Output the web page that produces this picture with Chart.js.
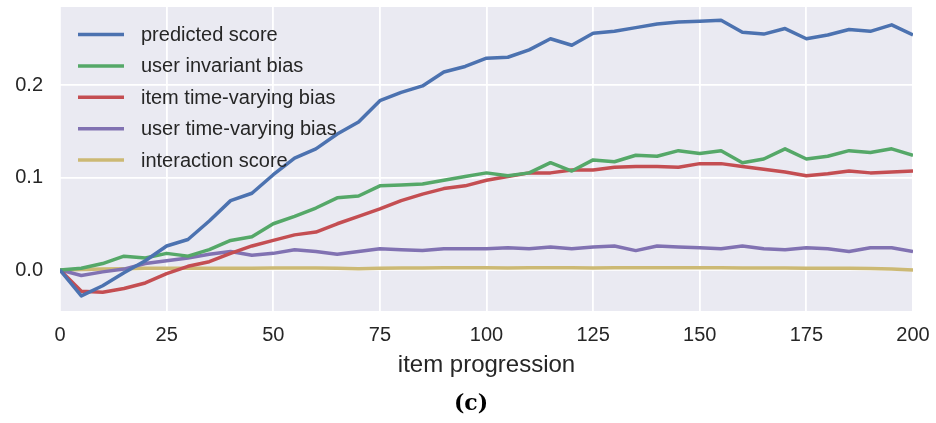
<!DOCTYPE html>
<html>
<head>
<meta charset="utf-8">
<script src="https://cdn.jsdelivr.net/npm/chart.js@4/dist/chart.umd.min.js"></script>
<style>
  html, body { margin: 0; padding: 0; background: #ffffff; }
  #wrap { width: 936px; height: 423px; position: relative; }
</style>
</head>
<body>
<div id="wrap"><canvas id="c" width="936" height="423"></canvas></div>
<script>
// item progression steps
const steps = [0, 5, 10, 15, 20, 25, 30, 35, 40, 45, 50, 55, 60, 65, 70, 75, 80, 85, 90, 95, 100,
  105, 110, 115, 120, 125, 130, 135, 140, 145, 150, 155, 160, 165, 170, 175, 180, 185, 190, 195, 200];

const predictedScore = [0, -0.028, -0.017, -0.003, 0.010, 0.026, 0.033, 0.053, 0.075, 0.083, 0.103,
  0.121, 0.131, 0.147, 0.160, 0.183, 0.192, 0.199, 0.214, 0.220, 0.229, 0.230, 0.238, 0.250, 0.243,
  0.256, 0.258, 0.262, 0.266, 0.268, 0.269, 0.270, 0.257, 0.255, 0.261, 0.250, 0.254, 0.260, 0.258,
  0.265, 0.254];

const userInvariantBias = [0, 0.002, 0.007, 0.015, 0.013, 0.018, 0.015, 0.022, 0.032, 0.036, 0.050,
  0.058, 0.067, 0.078, 0.080, 0.091, 0.092, 0.093, 0.097, 0.101, 0.105, 0.102, 0.105, 0.116, 0.107,
  0.119, 0.117, 0.124, 0.123, 0.129, 0.126, 0.129, 0.116, 0.120, 0.131, 0.120, 0.123, 0.129, 0.127,
  0.131, 0.124];

const itemTimeVaryingBias = [0, -0.023, -0.024, -0.020, -0.014, -0.004, 0.004, 0.009, 0.018, 0.026,
  0.032, 0.038, 0.041, 0.050, 0.058, 0.066, 0.075, 0.082, 0.088, 0.091, 0.097, 0.101, 0.105, 0.105,
  0.108, 0.108, 0.111, 0.112, 0.112, 0.111, 0.115, 0.115, 0.112, 0.109, 0.106, 0.102, 0.104, 0.107,
  0.105, 0.106, 0.107];

const userTimeVaryingBias = [0, -0.006, -0.002, 0.001, 0.007, 0.010, 0.013, 0.017, 0.020, 0.016,
  0.018, 0.022, 0.020, 0.017, 0.020, 0.023, 0.022, 0.021, 0.023, 0.023, 0.023, 0.024, 0.023, 0.025,
  0.023, 0.025, 0.026, 0.021, 0.026, 0.025, 0.024, 0.023, 0.026, 0.023, 0.022, 0.024, 0.023, 0.020,
  0.024, 0.024, 0.020];

const interactionScore = [0, 0.0005, 0.001, 0.0015, 0.0018, 0.002, 0.002, 0.002, 0.002, 0.002,
  0.0022, 0.0022, 0.0022, 0.002, 0.0015, 0.0018, 0.0022, 0.0022, 0.0025, 0.0024, 0.0024, 0.0022,
  0.0025, 0.0025, 0.0024, 0.0022, 0.0024, 0.0025, 0.0025, 0.0025, 0.0024, 0.0024, 0.0022, 0.0021,
  0.0021, 0.002, 0.002, 0.0019, 0.0017, 0.0012, 0.0];

const seriesLabels = ['predicted score', 'user invariant bias', 'item time-varying bias',
  'user time-varying bias', 'interaction score'];

const xTicks = [0, 25, 50, 75, 100, 125, 150, 175, 200];
const yTicks = [0.0, 0.1, 0.2];

const xTitle = 'item progression';
const panelLabel = '(c)';

const palette = ['#4C72B0', '#55A868', '#C44E52', '#8172B2', '#CCB974'];
const textColor = '#262626';
const FONT = "'Liberation Sans', Arial, sans-serif";

const seriesValues = [predictedScore, userInvariantBias, itemTimeVaryingBias, userTimeVaryingBias, interactionScore];

const datasets = seriesValues.map((vals, i) => ({
  label: seriesLabels[i],
  data: vals.map((v, j) => ({ x: steps[j], y: v })),
  borderColor: palette[i],
  backgroundColor: palette[i],
  borderWidth: 3.5,
  pointRadius: 0,
  tension: 0,
  fill: false,
  borderJoinStyle: 'round',
  borderCapStyle: 'butt'
}));

// grey plotting background behind the grid
const plotBackground = {
  id: 'plotBackground',
  beforeDraw(chart) {
    const { ctx, chartArea: a } = chart;
    ctx.save();
    ctx.fillStyle = '#EAEAF2';
    ctx.fillRect(a.left, a.top, a.right - a.left, a.bottom - a.top);
    ctx.restore();
  }
};

// frameless legend in the upper-left corner of the plot
const innerLegend = {
  id: 'innerLegend',
  afterDatasetsDraw(chart) {
    const { ctx, chartArea: a } = chart;
    const x0 = a.left + 18, x1 = a.left + 64, tx = a.left + 81;
    const y0 = a.top + 27.5, dy = 31.4;
    ctx.save();
    ctx.font = '20px ' + FONT;
    ctx.textBaseline = 'middle';
    ctx.textAlign = 'left';
    chart.data.datasets.forEach((ds, i) => {
      const y = y0 + i * dy;
      ctx.strokeStyle = ds.borderColor;
      ctx.lineWidth = 3.5;
      ctx.lineCap = 'butt';
      ctx.beginPath();
      ctx.moveTo(x0, y);
      ctx.lineTo(x1, y);
      ctx.stroke();
      ctx.fillStyle = textColor;
      ctx.fillText(ds.label, tx, y + 1);
    });
    ctx.restore();
  }
};

// bold serif panel label under the axis title
const panelTag = {
  id: 'panelTag',
  afterDraw(chart) {
    const { ctx } = chart;
    ctx.save();
    ctx.font = "bold 22px 'DejaVu Serif', 'Liberation Serif', serif";
    ctx.fillStyle = '#000000';
    ctx.textAlign = 'center';
    ctx.textBaseline = 'middle';
    ctx.fillText(panelLabel, 471, 404);
    ctx.restore();
  }
};

function noEdgePadding(scale) {
  scale.paddingLeft = 0;
  scale.paddingRight = 0;
  scale.paddingTop = 0;
  scale.paddingBottom = 0;
}

new Chart(document.getElementById('c'), {
  type: 'line',
  data: { datasets },
  plugins: [plotBackground, innerLegend, panelTag],
  options: {
    responsive: false,
    animation: false,
    layout: { padding: { left: 0, right: 23, top: 7, bottom: 0 } },
    plugins: { legend: { display: false }, tooltip: { enabled: false }, title: { display: false } },
    scales: {
      x: {
        type: 'linear',
        min: 0,
        max: 200,
        afterBuildTicks(scale) { scale.ticks = xTicks.map(v => ({ value: v })); },
        afterFit(scale) { scale.height = 112; noEdgePadding(scale); },
        border: { display: false },
        grid: { color: '#ffffff', lineWidth: 1.8, drawTicks: false },
        ticks: {
          padding: 12,
          color: textColor,
          font: { family: FONT, size: 20 },
          maxRotation: 0,
          callback: v => String(v)
        },
        title: {
          display: true,
          text: xTitle,
          color: textColor,
          font: { family: FONT, size: 24, lineHeight: 1 },
          padding: { top: 0, bottom: 46 }
        }
      },
      y: {
        type: 'linear',
        min: -0.0443,
        max: 0.2843,
        afterBuildTicks(scale) { scale.ticks = yTicks.map(v => ({ value: v })); },
        afterFit(scale) { scale.width = 60; noEdgePadding(scale); },
        border: { display: false },
        grid: { color: '#ffffff', lineWidth: 1.8, drawTicks: false },
        ticks: {
          padding: 17,
          color: textColor,
          font: { family: FONT, size: 20 },
          callback: v => v.toFixed(1)
        }
      }
    }
  }
});
</script>
</body>
</html>
